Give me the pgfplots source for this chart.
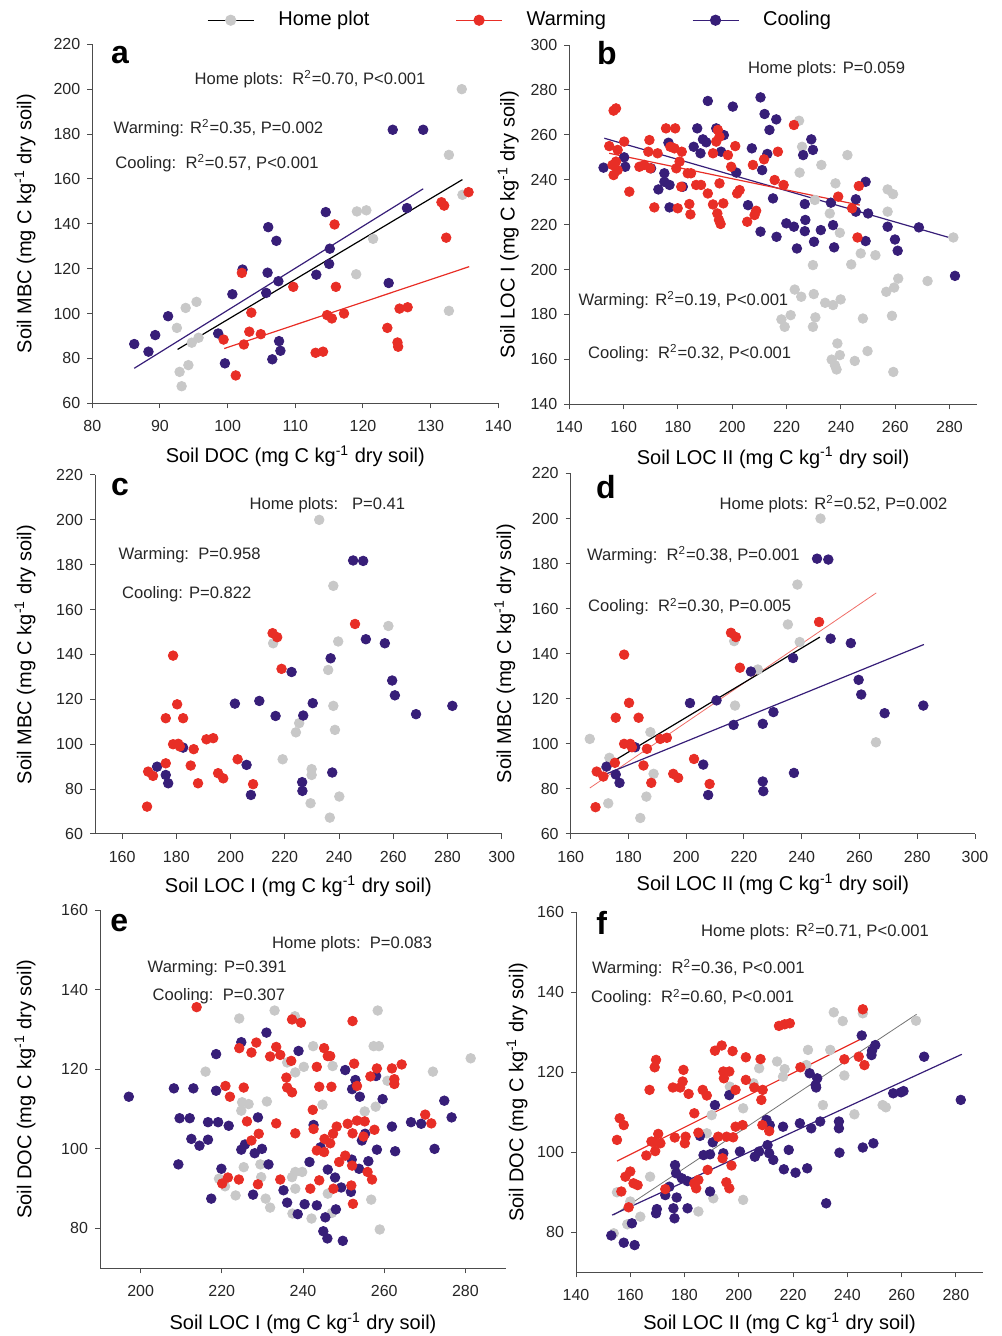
\documentclass[border=0pt]{standalone}
\usepackage{fontspec}
\setmainfont{Liberation Sans}
\usepackage{pgfplots}
\pgfplotsset{compat=1.18}

\definecolor{homegray}{RGB}{200,200,200}
\definecolor{warmred}{RGB}{232,46,38}
\definecolor{coolnavy}{RGB}{55,30,120}
\newcommand{\annot}{\fontsize{8.3}{10}\selectfont}

\pgfplotsset{
  panel/.style={
    scale only axis, axis lines*=left, tick align=outside,
    major tick length=2.5pt,
    axis line style={black!70, line width=0.5pt},
    tick style={black!70, line width=0.5pt},
    tick label style={font=\fontsize{8}{9}\selectfont, text=black!85},
    xticklabel style={yshift=-2.5pt},
    /pgf/number format/assume math mode=true,
    label style={font=\fontsize{10}{12}\selectfont},
    clip=false,
  },
  home/.style={only marks, mark=*, mark size=2.4pt, mark options={draw=homegray, fill=homegray}},
  warm/.style={only marks, mark=*, mark size=2.4pt, mark options={draw=warmred, fill=warmred}},
  cool/.style={only marks, mark=*, mark size=2.4pt, mark options={draw=coolnavy, fill=coolnavy}},
}

\begin{document}
\begin{tikzpicture}
\useasboundingbox (0pt,0pt) rectangle (500.5pt,668pt);

% ---- a ----
\begin{axis}[panel, at={(46.15pt,466.35pt)}, anchor=south west, width=203pt, height=179.5pt,
  xmin=80, xmax=140, ymin=60, ymax=220,
  xtick={80,90,...,140}, ytick={60,80,...,220},
  xlabel={Soil DOC (mg C kg\textsuperscript{-1} dry soil)},
  ylabel={Soil MBC (mg C kg\textsuperscript{-1} dry soil)},
  xlabel style={at={(axis description cs:0.5,-0.147)}, anchor=center},
  ylabel style={at={(axis description cs:-0.166,0.5)}, anchor=center},
  legend style={at={(axis description cs:1.056,1.067)}, anchor=center, draw=none, fill=none,
    legend columns=3, font=\fontsize{10}{12}\selectfont,
    /tikz/every odd column/.append style={column sep=10pt},
    /tikz/every even column/.append style={column sep=41pt}},
  legend image code/.code={\draw[mark repeat=2,mark phase=2,#1] plot coordinates {(0pt,0pt)(11.5pt,0pt)(23pt,0pt)};},
]
\addlegendimage{black, line width=0.6pt, mark=*, mark size=2.5pt, mark options={draw=homegray, fill=homegray}}
\addlegendentry{Home plot}
\addlegendimage{warmred, line width=0.6pt, mark=*, mark size=2.5pt, mark options={draw=warmred, fill=warmred}}
\addlegendentry{Warming}
\addlegendimage{coolnavy, line width=0.6pt, mark=*, mark size=2.5pt, mark options={draw=coolnavy, fill=coolnavy}}
\addlegendentry{Cooling}
\addplot[home, forget plot] coordinates {(134.6,200)(132.7,170.7)(134.7,152.9)(119.1,145.5)(120.5,146)(121.5,133.3)(119,117.5)(132.7,101.2)(93.8,102.5)(95.4,105.2)(92.5,93.6)(94.7,87)(95.7,89.2)(92.9,74)(94.2,77)(93.2,67.6)};
\addplot[cool, forget plot] coordinates {(124.4,181.9)(128.9,181.9)(126.5,147)(114.5,145.2)(106,138.5)(107.2,132.4)(115.1,128.9)(115,122.1)(102.2,119.6)(105.9,118.2)(107.5,114.4)(113.1,117.3)(105.7,109.2)(100.7,108.6)(123.8,113.6)(91.2,98.8)(89.3,90.4)(86.2,86.4)(88.3,83)(98.6,91.1)(107.6,87.7)(107.8,83.4)(106.6,79.6)(99.6,77.8)};
\addplot[warm, forget plot] coordinates {(135.6,154.1)(131.6,149.6)(132,148.1)(132.3,133.8)(115.8,139.7)(102.1,118.1)(109.7,111.9)(116,111.9)(103.5,100.4)(125.4,102.2)(126.6,102.8)(114.7,99.3)(115.4,97.8)(117.2,100)(123.6,93.6)(125.1,87.1)(125.2,85.2)(99.4,88.4)(103.2,91.9)(104.9,90.8)(102.4,86.2)(113,82.5)(114.1,83)(101.2,72.4)};
\addplot[coolnavy, line width=0.6pt, forget plot] coordinates {(86.2,75.6)(128.9,155.6)};
\addplot[black, line width=0.6pt, forget plot] coordinates {(92.6,84)(134.7,159.7)};
\addplot[warmred, line width=0.6pt, forget plot] coordinates {(99.5,84.4)(135.7,120.9)};
\end{axis}

% ---- b ----
\begin{axis}[panel, at={(284.65pt,465.85pt)}, anchor=south west, width=203.7pt, height=179.6pt,
  xmin=140, xmax=290, ymin=140, ymax=300,
  xtick={140,160,...,280}, ytick={140,160,...,300},
  xlabel={Soil LOC II (mg C kg\textsuperscript{-1} dry soil)},
  ylabel={Soil LOC I (mg C kg\textsuperscript{-1} dry soil)},
  xlabel style={at={(axis description cs:0.5,-0.149)}, anchor=center},
  ylabel style={at={(axis description cs:-0.150,0.5)}, anchor=center},
]
\addplot[home] coordinates {(224.6,266.3)(225.7,254.7)(224.8,243.2)(232.8,246.6)(242.4,251)(238,238.4)(230.4,231)(235.9,225)(239.6,216.4)(257.2,235.7)(259.2,233.6)(257.2,225.8)(281.4,214.3)(247.3,207.2)(252.7,206.4)(243.8,202.3)(229.7,202)(261.1,196)(271.9,194.9)(223,191.1)(225.4,187.9)(230,189.1)(234.2,185.2)(237.1,184.2)(239.9,186.7)(256.7,190.1)(259.6,192)(258.8,179.4)(248.1,178.2)(218.1,177.8)(221.5,179.7)(219.3,174.5)(230.6,178.7)(229.7,174.5)(238.7,167.1)(239.6,161.9)(236.6,159.9)(237.8,157.4)(238.4,155.5)(245.1,159.3)(249.8,163.7)(259.3,154.4)};
\addplot[cool] coordinates {(152.6,245.4)(160.6,245.8)(160.2,250)(191,275.1)(200.2,272.6)(210.4,276.7)(211.9,269.3)(216.2,266.9)(213.7,262.2)(187.1,262.9)(194.1,262.9)(196.9,259.9)(189.2,258)(190.4,256.7)(176.5,256.5)(185.8,254.7)(188.3,251.8)(195.9,252.5)(207.2,254)(212.9,251.5)(229.1,258)(226.1,251)(229.7,253.3)(170.1,245.1)(175,242.9)(175,239.1)(172.8,235.7)(176.9,237.7)(181.8,236.9)(201.5,243.2)(211,244.3)(215,231.7)(176.9,227.7)(205.8,228.7)(226.7,229.2)(236.3,229.8)(245.5,231.3)(249.1,239.1)(245.5,225.8)(250,225)(226.9,222.1)(219.9,220.6)(222.7,219.1)(226.7,217.1)(232.6,217.6)(237.1,219.8)(210.4,216.9)(216.3,214.6)(230.1,212.4)(223.8,209.4)(237.5,209.9)(249.1,212.7)(257.2,219.1)(259.9,213.4)(260.9,208.4)(268.7,218.8)(282,197.2)};
\addplot[warm] coordinates {(156.3,270.8)(157.2,271.8)(154.7,255)(160.2,257)(157.8,253.3)(155.9,246.6)(157.2,248.1)(156.3,242.1)(157.8,244.3)(162.1,234.7)(169.5,257.7)(169.1,252.5)(165.8,245.8)(167.6,246.6)(169.8,245.1)(172.5,251.8)(175.6,262.9)(179,262.9)(177.2,254.7)(178.7,254)(181.4,252.5)(180.6,248.1)(179.4,245.1)(183.6,242.9)(184.8,242.9)(181.2,236.9)(186.7,237.7)(188.5,237.7)(191,233.9)(195.3,238.4)(194.7,262.2)(195.3,259.2)(194.1,257)(192.9,251.8)(198.4,251)(201.1,255)(199.6,245.8)(202.7,235.4)(201.8,233.9)(171.3,227.7)(179.9,227.3)(184.2,229.2)(184.6,224.6)(192.9,229)(196.7,229.5)(194.5,225)(195.1,222.1)(195.7,220.3)(208.8,226.2)(208.2,224.3)(205.5,221.3)(207.6,246.6)(211.7,249.1)(216.8,252.5)(215.6,239.9)(218.9,237.7)(222.7,264.4)(239,232.5)(246.6,237.2)(244.1,227.3)(246.1,214.3)};
\addplot[coolnavy, line width=0.6pt] coordinates {(152.9,258.5)(281.8,213.6)};
\addplot[warmred, line width=0.6pt] coordinates {(154.7,251.8)(247,228.7)};
\end{axis}

% ---- c ----
\begin{axis}[panel, at={(47.5pt,251pt)}, anchor=south west, width=203.35pt, height=179.5pt,
  xmin=150, xmax=300, ymin=60, ymax=220,
  xtick={160,180,...,300}, ytick={60,80,...,220},
  xlabel={Soil LOC I (mg C kg\textsuperscript{-1} dry soil)},
  ylabel={Soil MBC (mg C kg\textsuperscript{-1} dry soil)},
  xlabel style={at={(axis description cs:0.5,-0.145)}, anchor=center},
  ylabel style={at={(axis description cs:-0.172,0.5)}, anchor=center},
]
\addplot[home] coordinates {(232.7,200)(237.9,170.6)(258.2,152.7)(239.7,145.8)(215.7,145)(236,133.1)(237.9,117.1)(225.3,109.4)(224.1,105.3)(238.5,106.4)(219.2,93.3)(229.9,88.9)(229.9,86.3)(240.1,76.7)(229.5,73.7)(236.6,67.3)};
\addplot[cool] coordinates {(245.2,181.9)(248.9,181.7)(249.9,146.8)(256.9,145)(236.9,138.3)(222.5,132.2)(259.6,128.4)(260.6,121.8)(268.4,113.4)(281.8,117.1)(201.6,118.1)(210.6,119.3)(216.6,112.6)(226.8,112.8)(230.3,118.3)(182.5,98.5)(205.9,90.8)(172.9,90)(176.1,86.3)(177,82.6)(226.4,83.1)(226.5,79.2)(237.5,87.4)(207.5,77.4)};
\addplot[warm] coordinates {(245.9,153.6)(215.5,149.5)(217.2,147.7)(218.8,133.6)(178.8,139.5)(180.3,117.8)(176.1,111.6)(182.5,111.6)(178.8,100)(180.7,100.2)(181.3,99)(186.4,97.8)(191.1,102.2)(193.6,102.7)(176.1,91.5)(169.6,87.8)(171.4,85.9)(185.3,90.5)(188,82.6)(195.4,87.1)(197.3,84.8)(202.6,93.3)(208.3,82.2)(169.2,72.2)};
\end{axis}

% ---- d ----
\begin{axis}[panel, at={(285.35pt,251pt)}, anchor=south west, width=202.15pt, height=180.25pt,
  xmin=160, xmax=300, ymin=60, ymax=220,
  xtick={160,180,...,300}, ytick={60,80,...,220},
  xlabel={Soil LOC II (mg C kg\textsuperscript{-1} dry soil)},
  ylabel={Soil MBC (mg C kg\textsuperscript{-1} dry soil)},
  xlabel style={at={(axis description cs:0.5,-0.139)}, anchor=center},
  ylabel style={at={(axis description cs:-0.163,0.5)}, anchor=center},
]
\addplot[home] coordinates {(246.5,200)(238.5,170.7)(235.2,153)(239.3,145.2)(216.6,145.6)(224.8,133)(216.9,117)(187.6,105.2)(166.6,102.2)(265.7,100.7)(173.4,93.8)(188.7,86.7)(186.2,76.6)(173,73.6)(184.1,67.1)};
\addplot[cool] coordinates {(245.3,182.2)(249.2,181.8)(250,146.7)(257,144.7)(237,138.1)(222.4,132.1)(259.7,128.4)(260.6,121.9)(268.7,113.6)(282.1,117)(201.3,118.1)(210.5,119.3)(216.4,108.4)(226.5,108.9)(230.2,114.1)(182.3,98.5)(205.9,90.8)(172.4,89.9)(175.6,86.4)(176.9,82.7)(226.5,83.3)(226.7,79)(237.3,87.1)(207.6,77.3)};
\addplot[warm] coordinates {(246,154.1)(215.5,149.3)(217.2,147.4)(218.6,133.8)(178.5,139.6)(180.2,118.2)(175.6,111.6)(183.5,111.6)(178.5,100)(180.6,100)(181.2,98.5)(186.4,97.8)(191,102.2)(193.3,102.7)(175.3,91.6)(169,87.7)(171.3,85.5)(185.2,90.4)(187.9,82.7)(195.5,86.7)(197.2,84.9)(202.7,93.3)(208.1,82.2)(168.6,71.9)};
\addplot[warmred!70, line width=0.4pt] coordinates {(166.6,80.4)(265.8,167)};
\addplot[black, line width=0.6pt] coordinates {(170.7,89.2)(246.3,147.4)};
\addplot[coolnavy, line width=0.6pt] coordinates {(172.4,86.7)(282.3,144.1)};
\end{axis}

% ---- e ----
\begin{axis}[panel, at={(50pt,33.85pt)}, anchor=south west, width=203pt, height=179.15pt,
  xmin=190, xmax=290, ymin=70, ymax=160,
  xtick={200,220,...,280}, ytick={80,100,...,160},
  xlabel={Soil LOC I (mg C kg\textsuperscript{-1} dry soil)},
  ylabel={Soil DOC (mg C kg\textsuperscript{-1} dry soil)},
  xlabel style={at={(axis description cs:0.5,-0.153)}, anchor=center},
  ylabel style={at={(axis description cs:-0.185,0.5)}, anchor=center},
]
\addplot[home] coordinates {(224.3,132.75)(233,134.75)(238,133.3)(258.4,134.75)(257.4,125.8)(258.7,125.8)(242.5,125.8)(216,119.4)(236.1,121.7)(240.2,120.6)(238.1,119.2)(247.3,120.8)(260.8,117.1)(272,119.4)(281.3,122.75)(225,111.7)(226.6,111.25)(224.8,109.6)(231.1,111.9)(244.8,111.1)(255.2,109.4)(257.9,110.6)(225.4,95.4)(229.5,96.1)(229.7,92.9)(219.3,92.5)(220.8,90.6)(223.4,88.3)(230.8,87.5)(238.1,94.2)(239.8,94.2)(237.3,92.9)(238.1,90)(246.1,88.75)(256.8,87.25)(231.9,85.25)(237.4,83.75)(242.1,82.5)(247.1,83.9)(258.9,79.75)};
\addplot[cool] coordinates {(197.1,113.1)(208.2,115.2)(213,115.2)(218.6,123.8)(218.6,114.6)(224.8,126.8)(231,129.2)(238.9,124.6)(209.6,107.7)(212.1,107.7)(216.6,106.7)(219.1,106.7)(221.7,105.8)(212.5,102.5)(214.5,100.8)(216.6,102.3)(209.3,96.1)(219.9,95)(217.4,87.5)(224.8,99.8)(225.7,101.1)(228.9,107.9)(228.1,98.9)(229.9,100)(231.5,96.1)(227.7,88.5)(235.2,89.6)(236.1,86.5)(238.7,83.6)(240.4,86.1)(243.4,85.8)(241.6,96.7)(242.6,106)(244.3,100.4)(246.1,94.8)(247.9,92.8)(248.1,84.8)(245.5,82.8)(245,79.3)(246,77.5)(249.8,76.9)(249.4,90.3)(250.4,119.8)(252.9,117.3)(252.1,115)(254,113.1)(259.6,112.5)(258,118.3)(252,97.3)(253.8,95)(256.1,96.9)(255.3,103.8)(254.5,102.1)(258.2,99.8)(261.9,105.6)(262.7,99.4)(251.8,89.2)(266.6,106.7)(269.1,106.3)(272.4,100)(274.8,112.1)(276.6,107.9)};
\addplot[warm] coordinates {(213.8,135.6)(237.3,132.5)(239.5,131.7)(252.2,132.1)(224.3,125.3)(228.5,126.7)(227.3,124.2)(233.4,125.6)(231.9,123.2)(234.4,123.6)(237.1,122.1)(245.2,125.3)(246.1,123.3)(246.7,123.3)(243.4,120.6)(252.6,121.4)(258.2,120.2)(261.9,120.2)(264.3,121.2)(262.5,117.5)(262.5,116.3)(256.6,118.2)(253.3,115.8)(235.9,117.9)(236.1,115.4)(237.3,114.2)(244,115.6)(247,115.6)(220.9,115.8)(222,113.1)(225.4,115.4)(242.4,109.8)(226.2,106.9)(233.4,106.4)(238.1,103.9)(242.6,105)(229.1,103.8)(227.3,102.1)(248.3,105.6)(251,106.3)(253.3,107.1)(255.2,106.9)(257.6,104.8)(252.2,103.9)(254.9,103.1)(247.4,103.8)(245.3,102.5)(246.7,101.4)(243.4,99.6)(245.2,99.2)(250.4,98.3)(248.9,96.7)(252.1,95.8)(255.9,94.2)(257,92.3)(270.1,108.6)(271.6,106.4)(221.5,92.8)(224.2,92.3)(220.1,91.3)(228.9,91.1)(234.4,92.3)(241.8,90)(244,92.1)(247.5,90)(251.9,90.8)(252.3,86.2)};
\end{axis}

% ---- f ----
\begin{axis}[panel, at={(288pt,31.85pt)}, anchor=south west, width=203.5pt, height=180pt,
  xmin=140, xmax=290, ymin=70, ymax=160,
  xtick={140,160,...,280}, ytick={80,100,...,160},
  xlabel={Soil LOC II (mg C kg\textsuperscript{-1} dry soil)},
  ylabel={Soil DOC (mg C kg\textsuperscript{-1} dry soil)},
  xlabel style={at={(axis description cs:0.5,-0.141)}, anchor=center},
  ylabel style={at={(axis description cs:-0.145,0.5)}, anchor=center},
]
\addplot[home] coordinates {(235,135)(238.3,132.8)(245.7,134.75)(265.3,132.9)(225.5,125.6)(233.7,125.6)(214.1,122.7)(224.9,121.8)(207.5,121)(216.9,120.8)(216.3,118.9)(238.9,119.2)(196.7,116.4)(205.4,117.25)(201.6,111)(231,111.8)(242.6,109.5)(253,111.8)(254.2,111.25)(190,109.3)(188.2,104.75)(167.3,93.9)(176.7,95.4)(190.6,88.5)(201.6,88.1)(185.1,85.2)(155.1,90)(160,87.7)(163.7,83.9)(158.9,82)(153.9,79.75)};
\addplot[cool] coordinates {(245.3,129.2)(249.1,125.4)(250.3,126.8)(248.9,124.3)(268.3,123.9)(226.1,119.75)(228.9,118.5)(228.5,116.2)(228.3,116.8)(256.9,114.75)(259.8,115)(260.7,115.3)(281.8,113.1)(191.2,111.8)(196.5,114.3)(210.2,108.1)(211.4,106.8)(216.3,106.4)(222.5,107.25)(226.7,106)(230,107.7)(236.9,107.7)(236.9,106)(185.7,104.1)(190.4,102.5)(187,99.3)(189.4,99.5)(194.3,99.75)(200.4,100.2)(205.9,98.9)(207.5,100.2)(210.6,101.8)(211.2,99.75)(212.7,98.1)(218.4,100.6)(216.6,95.75)(220.9,94.9)(225.2,96)(237.1,99.9)(245.7,101.2)(249.6,102.25)(232.2,87.25)(176.5,96.8)(176.9,94.75)(179,93.5)(181.1,92.8)(174.4,91.4)(177.1,88.7)(175.9,86)(172.9,89.3)(169.8,85.8)(169.5,84.75)(176.3,83.5)(181.1,86)(189.4,90.2)(160.6,82.25)(153,79.2)(157.6,77.4)(161.6,76.8)};
\addplot[warm] coordinates {(245.7,135.75)(214.8,131.6)(216.9,132)(218.8,132.25)(191.2,125.4)(193.7,126.7)(197.7,125.3)(169.5,123.1)(169,121.25)(179.6,120.6)(202.6,123.75)(208,123.3)(222.7,121.25)(238.9,123.25)(244.2,123.9)(246.3,121.8)(194.3,120.2)(196.5,120.2)(194.5,118.5)(202.6,118.1)(205.7,116.2)(208.8,115.6)(208.3,113.1)(198.8,115.6)(175.7,116.2)(178.4,116.2)(179.3,117.7)(181.5,114.6)(186.7,115.6)(188.2,114.2)(167.1,115.6)(156.1,108.5)(157.6,106.8)(155.1,103.1)(183.6,109.75)(167.8,102.7)(170.3,104.6)(168.8,102.5)(171.1,102.25)(176.4,103.7)(180.4,103.9)(180.1,102.25)(185.1,104.9)(192.4,103.9)(195.5,103.9)(197.9,103.75)(198.8,106.4)(201.4,106.8)(208.7,106.8)(211.2,105.3)(165.9,99.2)(169.2,100.3)(160,95.2)(158.2,93.9)(161.2,92.25)(156.7,90.2)(162.7,91.8)(159.4,86.25)(172.9,90.8)(183.6,92.25)(185.1,93.1)(184.3,91)(194,98.5)(197.3,96.7)(195.4,92.5)(196.5,91)(188.5,95.6)};
\addplot[warmred, line width=0.6pt] coordinates {(155.1,97.8)(246.3,128.75)};
\addplot[black!55, line width=0.4pt] coordinates {(153.9,84.3)(265.5,134.5)};
\addplot[coolnavy, line width=0.6pt] coordinates {(153.3,84.3)(282.2,124.5)};
\end{axis}

% ---- panel letters and statistics ----
\begin{scope}[x=0.5pt, y=0.5pt]
\tikzset{lbl/.style={anchor=west, inner sep=0pt, font=\fontsize{16}{18}\selectfont\bfseries},
         ann/.style={anchor=west, inner sep=0pt, font=\annot, text=black!85}}
\node[lbl] at (110.7,{1336-55}) {a};
\node[ann] at (194.3,{1336-79.3}) {Home plots:\ \ R\textsuperscript{2}=0.70, P<0.001};
\node[ann] at (113.3,{1336-128.3}) {Warming: R\textsuperscript{2}=0.35, P=0.002};
\node[ann] at (115,{1336-163.3}) {Cooling:\ \ R\textsuperscript{2}=0.57, P<0.001};

\node[lbl] at (596.7,{1336-53.3}) {b};
\node[ann] at (747.7,{1336-69.3}) {Home plots: P=0.059};
\node[ann] at (578.3,{1336-300}) {Warming: R\textsuperscript{2}=0.19, P<0.001};
\node[ann] at (587.7,{1336-353.3}) {Cooling:\ \ R\textsuperscript{2}=0.32, P<0.001};

\node[lbl] at (110.7,{1336-486.7}) {c};
\node[ann] at (249.3,{1336-505}) {Home plots:\ \ \ P=0.41};
\node[ann] at (118.3,{1336-555}) {Warming:\ \ P=0.958};
\node[ann] at (121.7,{1336-594.3}) {Cooling: P=0.822};

\node[lbl] at (595.7,{1336-486.7}) {d};
\node[ann] at (719.3,{1336-504.3}) {Home plots: R\textsuperscript{2}=0.52, P=0.002};
\node[ann] at (586.7,{1336-555}) {Warming:\ \ R\textsuperscript{2}=0.38, P=0.001};
\node[ann] at (587.7,{1336-606.7}) {Cooling:\ \ R\textsuperscript{2}=0.30, P=0.005};

\node[lbl] at (110,{1336-923.3}) {e};
\node[ann] at (271.7,{1336-944.3}) {Home plots:\ \ P=0.083};
\node[ann] at (147.3,{1336-968.3}) {Warming: P=0.391};
\node[ann] at (152.3,{1336-996}) {Cooling:\ \ P=0.307};

\node[lbl] at (596,{1336-923.3}) {f};
\node[ann] at (700.7,{1336-931.7}) {Home plots: R\textsuperscript{2}=0.71, P<0.001};
\node[ann] at (591.7,{1336-968.3}) {Warming:\ \ R\textsuperscript{2}=0.36, P<0.001};
\node[ann] at (590.7,{1336-997.7}) {Cooling:\ \ R\textsuperscript{2}=0.60, P<0.001};
\end{scope}
\end{tikzpicture}
\end{document}
